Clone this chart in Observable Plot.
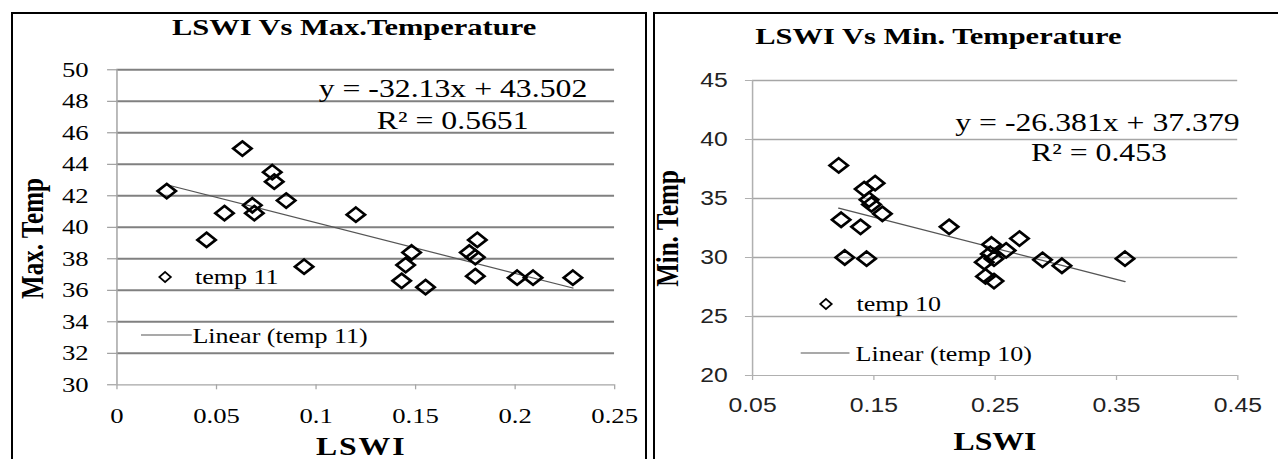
<!DOCTYPE html>
<html><head><meta charset="utf-8">
<script src="https://cdn.jsdelivr.net/npm/d3@7"></script>
<script src="https://cdn.jsdelivr.net/npm/@observablehq/plot@0.6"></script>
<style>
html,body{margin:0;padding:0;background:#fff;width:1278px;height:459px;overflow:hidden;position:relative;}
.panel{position:absolute;top:0;height:459px;transform-origin:0 0;transform:scaleX(1.27);}
.panel svg{position:absolute;left:0;top:0;overflow:visible;}
.box{position:absolute;border:2px solid #000;border-bottom:none;box-sizing:border-box;}
</style></head><body>
<div class="box" style="left:11px;top:12px;width:636px;height:460px"></div>
<div class="box" style="left:653px;top:12px;width:640px;height:460px;border-right:none"></div>
<div id="p1" class="panel" style="left:0px;width:508px"></div>
<div id="p2" class="panel" style="left:645px;width:498px"></div>
<script>
// ---- data: LSWI vs Max. Temperature (temp 11)
const maxLswi = [0.025, 0.045, 0.054, 0.063, 0.068, 0.069, 0.078, 0.079, 0.085, 0.094, 0.120, 0.143, 0.145, 0.148, 0.155, 0.177, 0.181, 0.180, 0.180, 0.201, 0.209, 0.229];
const maxTemp = [42.3, 39.2, 40.9, 45.0, 41.4, 40.9, 43.5, 42.9, 41.7, 37.5, 40.8, 36.6, 37.6, 38.4, 36.2, 38.4, 39.2, 38.1, 36.9, 36.8, 36.8, 36.8];
// ---- data: LSWI vs Min. Temperature (temp 10)
const minLswi = [0.121, 0.123, 0.126, 0.139, 0.142, 0.151, 0.146, 0.148, 0.157, 0.144, 0.212, 0.241, 0.242, 0.247, 0.246, 0.249, 0.249, 0.259, 0.270, 0.289, 0.305, 0.357];
const minTemp = [37.8, 33.2, 30.0, 32.6, 35.8, 36.3, 34.9, 34.5, 33.7, 29.9, 32.6, 29.6, 28.4, 31.1, 30.3, 29.9, 28.0, 30.6, 31.6, 29.8, 29.3, 29.9];
// ---- ticks
const maxXTicks = [0, 0.05, 0.1, 0.15, 0.2, 0.25];
const maxYTicks = [30, 32, 34, 36, 38, 40, 42, 44, 46, 48, 50];
const minXTicks = [0.05, 0.15, 0.25, 0.35, 0.45];
const minYTicks = [20, 25, 30, 35, 40, 45];
// ---- trendlines (as printed on the chart)
const maxFit = [-32.13, 43.502];
const minFit = [-26.381, 37.379];
const maxFitText = ["y = -32.13x + 43.502", "R\u00B2 = 0.5651"];
const minFitText = ["y = -26.381x + 37.379", "R\u00B2 = 0.453"];
// ---- labels
const titles = ["LSWI Vs Max.Temperature", "LSWI Vs Min. Temperature"];
const yTitles = ["Max. Temp", "Min. Temp"];
const xTitle = "LSWI";
const seriesNames = ["temp 11", "temp 10"];

const serif = "'Liberation Serif','Times New Roman',serif";
const sans = "'Liberation Sans',Arial,sans-serif";

function diamondSym(a, b) {
  return {draw(ctx) { ctx.moveTo(0, -b); ctx.lineTo(a, 0); ctx.lineTo(0, b); ctx.lineTo(-a, 0); ctx.closePath(); }};
}

function chart(o) {
  const data = o.xs.map((x, i) => ({x, y: o.ys[i]}));
  const ext = d3.extent(o.xs);
  const fit = ext.map(x => ({x, y: o.fit[0] * x + o.fit[1]}));
  const svg = Plot.plot({
    width: o.width, height: 459,
    marginLeft: o.ml, marginRight: o.mr, marginTop: o.mt, marginBottom: o.mb,
    style: {fontSize: o.tickSize + "px", color: "#000", background: "transparent", overflow: "visible"},
    x: {domain: o.xDomain, ticks: o.xTicks, tickFormat: d => String(d)},
    y: {domain: o.yDomain, ticks: o.yTicks},
    marks: [
      Plot.gridY(o.yTicks.slice(1), {stroke: o.gridColor, strokeOpacity: 1, strokeWidth: o.gridWidth}),
      Plot.axisY(o.yTicks, {tickSize: o.yTickSize, tickPadding: o.yTickPad, stroke: o.yTickColor, fill: o.tickColor, label: null, fontSize: o.tickSize}),
      Plot.axisX(o.xTicks, {tickSize: 5, tickPadding: 18, stroke: o.axisColor, fill: o.tickColor, label: null, tickFormat: d => String(d), fontSize: o.tickSize}),
      Plot.ruleY([o.yDomain[0]], {stroke: o.axisColor, strokeWidth: 1.2}),
      Plot.ruleX([o.xDomain[0]], {stroke: o.axisColor, strokeWidth: 1.2}),
      Plot.line(fit, {x: "x", y: "y", stroke: "#555", strokeWidth: 1.2}),
      Plot.dot(data, {x: "x", y: "y", symbol: diamondSym(7.2, 7.2), r: 7, stroke: "#000", strokeWidth: 2.4, fill: "none"})
    ]
  });
  svg.setAttribute("font-family", o.tickFont);
  svg.style.fontFamily = o.tickFont;
  d3.select(svg).selectAll("g, text").attr("font-family", null).style("font-family", o.tickFont);
  return svg;
}

function overlay(el, width, t) {
  const svg = d3.select(el).append("svg").attr("width", width).attr("height", 459)
    .style("pointer-events", "none").style("font-family", serif);
  svg.append("text").attr("x", t.title[0]).attr("y", t.title[1]).attr("text-anchor", "middle")
    .attr("font-weight", "bold").attr("font-size", 24).text(t.titleText);
  svg.append("text").attr("x", t.eq1[0]).attr("y", t.eq1[1]).attr("text-anchor", "middle")
    .attr("font-size", 25).text(t.eqText[0]);
  svg.append("text").attr("x", t.eq2[0]).attr("y", t.eq2[1]).attr("text-anchor", "middle")
    .attr("font-size", 25).text(t.eqText[1]);
  svg.append("text").attr("transform", `translate(${t.yt[0]},${t.yt[1]}) rotate(-90)`).attr("text-anchor", "middle")
    .attr("font-weight", "bold").attr("font-size", 25).text(t.yTitle);
  svg.append("text").attr("x", t.xt[0]).attr("y", t.xt[1]).attr("text-anchor", "middle")
    .attr("font-weight", "bold").attr("font-size", 25).attr("letter-spacing", t.xtSpacing).text(xTitle);
  // legend
  const [dx, dy] = t.legD;
  svg.append("path").attr("d", `M${dx},${dy - 5}L${dx + 4.5},${dy}L${dx},${dy + 5}L${dx - 4.5},${dy}Z`)
    .attr("fill", "none").attr("stroke", "#000").attr("stroke-width", 1.6);
  svg.append("text").attr("x", t.legDText[0]).attr("y", t.legDText[1]).attr("font-size", 20.5).text(t.series);
  svg.append("line").attr("x1", t.legL[0]).attr("x2", t.legL[1]).attr("y1", t.legL[2]).attr("y2", t.legL[2])
    .attr("stroke", "#555").attr("stroke-width", 1.2);
  svg.append("text").attr("x", t.legLText[0]).attr("y", t.legLText[1]).attr("font-size", 20.5).text(`Linear (${t.series})`);
}

const p1 = document.getElementById("p1");
p1.append(chart({
  xs: maxLswi, ys: maxTemp, fit: maxFit, width: 508,
  ml: 91.6, mr: 24.5, mt: 69.3, mb: 74.7,
  xDomain: [0, 0.25], yDomain: [30, 50], xTicks: maxXTicks, yTicks: maxYTicks,
  tickFont: serif, tickSize: 21, tickColor: "#000",
  gridColor: "#808080", gridWidth: 2, axisColor: "#a6a6a6", yTickColor: "#8c8c8c",
  yTickSize: 7.3, yTickPad: 15
}));
overlay(p1, 508, {
  title: [278.8, 35], titleText: titles[0],
  eq1: [356.7, 97.5], eq2: [356.5, 129], eqText: maxFitText,
  yt: [34, 238.5], yTitle: yTitles[0],
  xt: [284.4, 455.5], xtSpacing: 1.5,
  legD: [130, 277], legDText: [153.5, 284], legL: [111, 151, 335], legLText: [151.5, 343],
  series: seriesNames[0]
});

const p2 = document.getElementById("p2");
p2.append(chart({
  xs: minLswi, ys: minTemp, fit: minFit, width: 498,
  ml: 84.2, mr: 31.7, mt: 80, mb: 84,
  xDomain: [0.05, 0.45], yDomain: [20, 45], xTicks: minXTicks, yTicks: minYTicks,
  tickFont: sans, tickSize: 19.5, tickColor: "#222",
  gridColor: "#a6a6a6", gridWidth: 1.5, axisColor: "#b0b0b0", yTickColor: "#b0b0b0",
  yTickSize: 5.5, yTickPad: 14
}));
overlay(p2, 498, {
  title: [231, 44], titleText: titles[1],
  eq1: [356.3, 131], eq2: [357.5, 161], eqText: minFitText,
  yt: [26, 228.5], yTitle: yTitles[1],
  xt: [275.6, 450], xtSpacing: 0,
  legD: [142.5, 304], legDText: [166.5, 311], legL: [122.6, 161, 353], legLText: [165.8, 361],
  series: seriesNames[1]
});
</script>
</body></html>
